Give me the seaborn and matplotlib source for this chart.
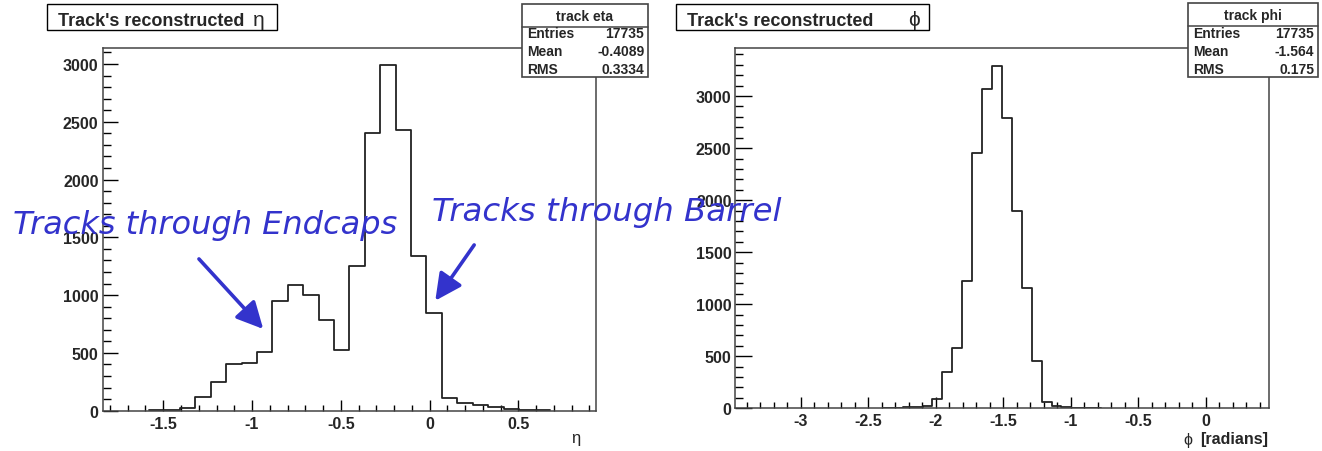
import numpy as np
import pandas as pd
import matplotlib
matplotlib.use("Agg")
import matplotlib.pyplot as plt
from matplotlib.patches import Rectangle
from matplotlib.ticker import MultipleLocator
import seaborn as sns

# ---------------- data ----------------
eta_edge_lo = -1.580
eta_bin_width = 0.0868
eta_counts = [4, 5, 23, 116, 251, 408, 410, 509, 951, 1087, 997, 786, 529,
              1249, 2400, 2990, 2431, 1340, 844, 107, 69, 52, 35, 17, 9, 6]

phi_edge_lo = -2.392
phi_bin_width = 0.07346
phi_counts = [3, 3, 12, 15, 25, 89, 351, 578, 1223, 2452, 3065, 3289, 2787,
              1900, 1156, 450, 57, 22, 13, 5, 4, 3]

eta_stats = [("Entries", "17735"), ("Mean", "-0.4089"), ("RMS", "0.3334")]
phi_stats = [("Entries", "17735"), ("Mean", "-1.564"), ("RMS", "0.175")]

title_text = "Track's reconstructed"
eta_symbol = "η"
phi_symbol = "ϕ"
eta_box_title = "track eta"
phi_box_title = "track phi"
phi_unit = "[radians]"
note_endcaps = "Tracks through Endcaps"
note_barrel = "Tracks through Barrel"

# ---------------- style ----------------
sns.set_style("ticks")
plt.rcParams["font.family"] = ["Liberation Sans", "DejaVu Sans"]

W, H = 1322, 452
fig = plt.figure(figsize=(W / 100, H / 100), dpi=100)


def fx(x):
    return x / W


def fy(y):
    return 1 - y / H


BLUE = "#3333cc"
LINE = "#222222"
FRAME = "#444444"

ax1 = fig.add_axes([fx(102.7), fy(411.7), fx(596) - fx(102.7), fy(49) - fy(411.7)])
ax2 = fig.add_axes([fx(735), fy(409.3), fx(1269) - fx(735), fy(49) - fy(409.3)])


def hist(ax, lo, width, counts):
    counts = np.asarray(counts, dtype=float)
    edges = lo + width * np.arange(len(counts) + 1)
    centers = 0.5 * (edges[:-1] + edges[1:])
    df = pd.DataFrame({"x": centers, "w": counts})
    sns.histplot(data=df, x="x", weights="w", bins=[float(e) for e in edges],
                 element="step", fill=False, color=LINE, linewidth=1.3, ax=ax)


hist(ax1, eta_edge_lo, eta_bin_width, eta_counts)
hist(ax2, phi_edge_lo, phi_bin_width, phi_counts)

ax1.set_xlim(-1.841, 0.937)
ax1.set_ylim(0, 3138)
ax2.set_xlim(-3.487, 0.467)
ax2.set_ylim(0, 3462)


def fmt_x(v, pos):
    if abs(v) < 1e-9:
        return "0"
    return "%g" % v


for ax, ymaj, ymin, xpad, ypad in [(ax1, 10.8, 5.4, 4.0, 3.0), (ax2, 12.0, 6.0, 3.3, 2.5)]:
    ax.set_xlabel("")
    ax.set_ylabel("")
    ax.xaxis.set_major_locator(MultipleLocator(0.5))
    ax.xaxis.set_minor_locator(MultipleLocator(0.1))
    ax.yaxis.set_major_locator(MultipleLocator(500))
    ax.yaxis.set_minor_locator(MultipleLocator(100))
    ax.xaxis.set_major_formatter(plt.FuncFormatter(fmt_x))
    ax.tick_params(axis="x", which="major", direction="in", length=8, width=1,
                   color="black", pad=xpad, labelsize=11.5)
    ax.tick_params(axis="x", which="minor", direction="in", length=4, width=1,
                   color="black")
    ax.tick_params(axis="y", which="major", direction="in", length=ymaj, width=1,
                   color="black", pad=ypad, labelsize=11.5)
    ax.tick_params(axis="y", which="minor", direction="in", length=ymin, width=1,
                   color="black")
    for lab in ax.get_xticklabels() + ax.get_yticklabels():
        lab.set_fontweight("bold")
    for s in ax.spines.values():
        s.set_visible(True)
        s.set_color(FRAME)
        s.set_linewidth(1.1)
    ax.set_facecolor("white")


# ---------------- title boxes ----------------
def title_box(x0, x1, y0, y1, text, sym, sym_x):
    fig.patches.append(Rectangle((fx(x0), fy(y1)), fx(x1) - fx(x0), fy(y0) - fy(y1),
                                 transform=fig.transFigure, facecolor="white",
                                 edgecolor="black", linewidth=1.0, zorder=5))
    fig.text(fx(x0 + 11), fy(25.5), text, ha="left", va="baseline",
             fontsize=13, fontweight="bold", zorder=6)
    fig.text(fx(sym_x), fy(25.5), sym, ha="center", va="baseline",
             fontsize=15, fontweight="normal", zorder=6)


title_box(46.7, 276.7, 5, 30.7, title_text, eta_symbol, 258.5)
title_box(676, 929, 5, 30.7, title_text, phi_symbol, 914)


# ---------------- stats boxes ----------------
def stats_box(x0, x1, y0, ysep, y1, title, rows, row_y):
    fig.patches.append(Rectangle((fx(x0), fy(y1)), fx(x1) - fx(x0), fy(y0) - fy(y1),
                                 transform=fig.transFigure, facecolor="white",
                                 edgecolor=FRAME, linewidth=1.2, zorder=5))
    fig.lines.append(plt.Line2D([fx(x0), fx(x1)], [fy(ysep), fy(ysep)],
                                transform=fig.transFigure, color=FRAME,
                                linewidth=1.1, zorder=6))
    fig.text(fx((x0 + x1) / 2), fy((y0 + ysep) / 2 + 0.5), title, ha="center",
             va="center", fontsize=10, fontweight="bold", zorder=7)
    for (k, v), yy in zip(rows, row_y):
        fig.text(fx(x0 + 5), fy(yy), k, ha="left", va="center", fontsize=10,
                 fontweight="bold", zorder=7)
        fig.text(fx(x1 - 4), fy(yy), v, ha="right", va="center", fontsize=10,
                 fontweight="bold", zorder=7)


stats_box(521.7, 648.3, 5, 28.3, 77.7, eta_box_title, eta_stats, [34, 52, 70.5])
stats_box(1188.3, 1318.3, 4, 26.7, 78, phi_box_title, phi_stats, [34, 52, 70])

# ---------------- axis labels ----------------
fig.text(fx(580), fy(439), eta_symbol, ha="right", va="center", fontsize=12)
fig.text(fx(1268.3), fy(440), phi_unit, ha="right", va="center", fontsize=11.5,
         fontweight="bold")
fig.text(fx(1188), fy(440.5), phi_symbol, ha="center", va="center", fontsize=11.5,
         fontweight="normal")

# ---------------- annotations ----------------
fig.text(fx(13), fy(234), note_endcaps, ha="left", va="baseline", fontsize=23,
         style="italic", color=BLUE, family=["DejaVu Sans"], zorder=10)
fig.text(fx(432), fy(220.7), note_barrel, ha="left", va="baseline", fontsize=23.3,
         style="italic", color=BLUE, family=["DejaVu Sans"], zorder=10)

arrow_kw = dict(arrowstyle="-|>,head_length=0.9,head_width=0.45", color=BLUE,
                lw=2.6, mutation_scale=18, shrinkA=0, shrinkB=0)
ax1.annotate("", xy=(-0.937, 707), xytext=(-1.299, 1313), xycoords="data",
             arrowprops=arrow_kw, annotation_clip=False)
ax1.annotate("", xy=(0.032, 952), xytext=(0.251, 1434), xycoords="data",
             arrowprops=arrow_kw, annotation_clip=False)

fig.savefig("out.png", dpi=100)
